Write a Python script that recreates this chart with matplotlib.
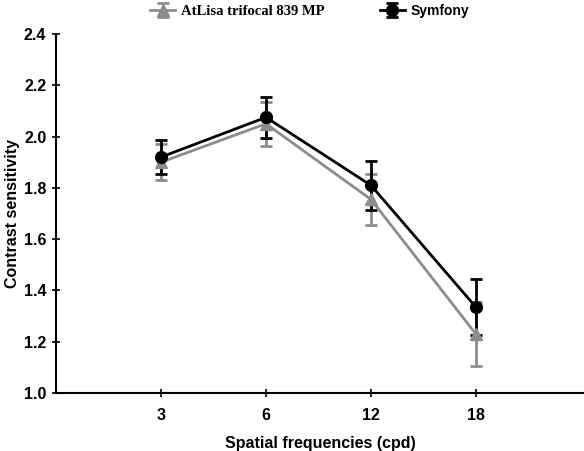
import numpy as np
import matplotlib
matplotlib.use("Agg")
import matplotlib.pyplot as plt

# Data
freqs = ["3", "6", "12", "18"]
atlisa_mean = [1.90, 2.05, 1.755, 1.23]
atlisa_err = [0.07, 0.085, 0.10, 0.125]
symfony_mean = [1.92, 2.075, 1.81, 1.335]
symfony_err = [0.065, 0.08, 0.095, 0.11]

plt.rcParams['font.family'] = ['Liberation Sans', 'DejaVu Sans']
plt.rcParams['font.weight'] = 'bold'

fig = plt.figure(figsize=(5.84, 4.51), dpi=100)
ax = fig.add_axes([0.096, 0.1286, 0.904, 0.796])

x = np.arange(len(freqs))
gray = '#8c8c8c'

ax.errorbar(x, atlisa_mean, yerr=atlisa_err, color=gray, ecolor=gray,
            marker='^', markersize=8.5, linewidth=2, elinewidth=2,
            capsize=4.5, capthick=2, label='AtLisa trifocal 839 MP')
ax.errorbar(x, symfony_mean, yerr=symfony_err, color='black', ecolor='black',
            marker='o', markersize=8.5, linewidth=2, elinewidth=2,
            capsize=4.5, capthick=2, label='Symfony')

ax.set_xlim(-1, 4.03)
ax.set_ylim(1.0, 2.4)
ax.set_xticks(x)
ax.set_xticklabels(freqs)
ax.set_yticks(np.arange(1.0, 2.41, 0.2))
ax.yaxis.set_major_formatter(matplotlib.ticker.FormatStrFormatter('%.1f'))

for side in ['top', 'right']:
    ax.spines[side].set_visible(False)
for side in ['left', 'bottom']:
    ax.spines[side].set_linewidth(1.5)
ax.tick_params(direction='inout', length=6, width=1.2, labelsize=11.5)
ax.tick_params(axis='x', pad=8)
ax.tick_params(axis='y', pad=4)

ax.set_xlabel('Spatial frequencies (cpd)', fontsize=11.5, fontweight='bold', labelpad=9)
ax.set_ylabel('Contrast sensitivity', fontsize=11.5, fontweight='bold', labelpad=3)

leg = fig.legend(loc='center', bbox_to_anchor=(0.53, 0.976), ncol=2,
                 frameon=False, fontsize=10, columnspacing=4.0,
                 handlelength=1.8, handletextpad=0.4)
texts = leg.get_texts()
texts[0].set_fontfamily('Liberation Serif')
texts[0].set_fontsize(10.5)
texts[0].set_fontweight('bold')

fig.savefig('out.png', dpi=100)
